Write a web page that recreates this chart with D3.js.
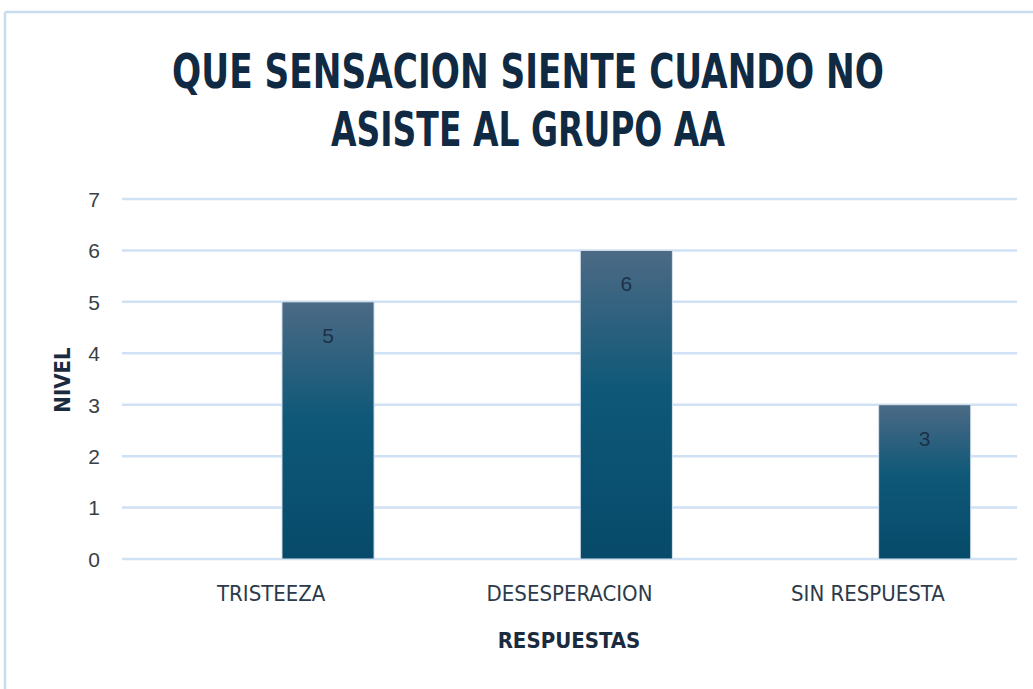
<!DOCTYPE html>
<html><head><meta charset="utf-8">
<script src="https://cdn.jsdelivr.net/npm/d3@7"></script>
<style>
body{margin:0;background:#fff;}
</style></head>
<body>
<svg id="chart" width="1033" height="689"></svg>
<script>
const categories = ["TRISTEEZA", "DESESPERACION", "SIN RESPUESTA"];
const values = [5, 6, 3];
const yTicks = [0, 1, 2, 3, 4, 5, 6, 7];
const titleLines = ["QUE SENSACION SIENTE CUANDO NO", "ASISTE AL GRUPO AA"];
const xTitle = "RESPUESTAS";
const yTitle = "NIVEL";

const svg = d3.select("#chart");
const W = 1033, H = 689;
const condFont = "Liberation Sans Narrow, DejaVu Sans Condensed, sans-serif";
const regFont = "Liberation Sans, Arial, sans-serif";

svg.append("rect").attr("width", W).attr("height", H).attr("fill", "#fff");
// chart frame (top & left edges visible)
svg.append("line").attr("x1", 5).attr("x2", W).attr("y1", 12).attr("y2", 12).attr("stroke", "#c9dcf0").attr("stroke-width", 2.5);
svg.append("line").attr("x1", 5).attr("x2", 5).attr("y1", 12).attr("y2", H).attr("stroke", "#c9dcf0").attr("stroke-width", 2.5);

const x = d3.scaleBand().domain(categories).range([122, 1017]).padding(0);
// each category holds an empty first slot and the value slot (clustered layout)
const xSub = d3.scaleBand().domain(["blank", "value"]).range([0, x.bandwidth()]).paddingInner(0.19).paddingOuter(0.407);
const y = d3.scaleLinear().domain([0, 7]).range([559, 199]);

const defs = svg.append("defs");
const grad = defs.append("linearGradient").attr("id", "barGrad").attr("x1", 0).attr("x2", 0).attr("y1", 0).attr("y2", 1);
grad.append("stop").attr("offset", "0%").attr("stop-color", "#4c6a85");
grad.append("stop").attr("offset", "45%").attr("stop-color", "#0f5878");
grad.append("stop").attr("offset", "100%").attr("stop-color", "#074a6a");

// gridlines
svg.append("g").selectAll("line").data(yTicks).join("line")
  .attr("x1", 122).attr("x2", 1017)
  .attr("y1", d => y(d)).attr("y2", d => y(d))
  .attr("stroke", "#cfe1f4").attr("stroke-width", 2.5);

// y axis labels
const yAxis = d3.axisLeft(y).tickValues(yTicks).tickFormat(d3.format("d")).tickSize(0).tickPadding(0);
const gy = svg.append("g").attr("transform", "translate(100,0)").call(yAxis);
gy.select(".domain").remove();
gy.selectAll("text").attr("font-family", regFont).attr("font-size", 21).attr("fill", "#3a3f45").attr("dy", "0.35em");

// bars
const barX = (i) => x(categories[i]) + xSub("value");
svg.append("g").selectAll("rect").data(values).join("rect")
  .attr("x", (d, i) => barX(i))
  .attr("width", xSub.bandwidth())
  .attr("y", d => y(d))
  .attr("height", d => y(0) - y(d))
  .attr("fill", "url(#barGrad)")
  .attr("stroke", "#d6e2ee").attr("stroke-width", 1);

// data labels
svg.append("g").selectAll("text").data(values).join("text")
  .attr("x", (d, i) => barX(i) + xSub.bandwidth() / 2)
  .attr("y", d => y(d) + 41)
  .attr("text-anchor", "middle")
  .attr("font-family", regFont).attr("font-size", 21)
  .attr("fill", "#1c3148")
  .text(d => d);

// x axis labels
const xAxis = d3.axisBottom(x).tickSize(0).tickPadding(0);
const gx = svg.append("g").attr("transform", "translate(0,585)").call(xAxis);
gx.select(".domain").remove();
gx.selectAll("text").attr("font-family", condFont).attr("font-size", 22).attr("fill", "#2c3a4a").attr("dy", "0.71em");

// axis titles
svg.append("text").attr("x", 569).attr("y", 648).attr("text-anchor", "middle")
  .attr("font-family", condFont).attr("font-weight", "bold")
  .attr("font-size", 22).attr("fill", "#1a2b40").text(xTitle);
svg.append("text").attr("transform", "translate(70,380) rotate(-90)").attr("text-anchor", "middle")
  .attr("font-family", condFont).attr("font-weight", "bold")
  .attr("font-size", 22).attr("fill", "#1a2b40").text(yTitle);

// title (horizontally squeezed to match the condensed face)
const titleY = [88, 146];
const titleW = [712, 394];
const tg = svg.append("g");
titleLines.forEach((line, i) => {
  const g = tg.append("g").attr("transform", `translate(528,${titleY[i]})`);
  const t = g.append("text").attr("x", 0).attr("y", 0).attr("text-anchor", "middle")
    .attr("font-family", condFont).attr("font-weight", "bold")
    .attr("font-size", 48).attr("fill", "#102a43").text(line);
  const natural = t.node().getComputedTextLength();
  t.attr("transform", `scale(${titleW[i] / natural},1)`);
});
</script>
</body></html>
